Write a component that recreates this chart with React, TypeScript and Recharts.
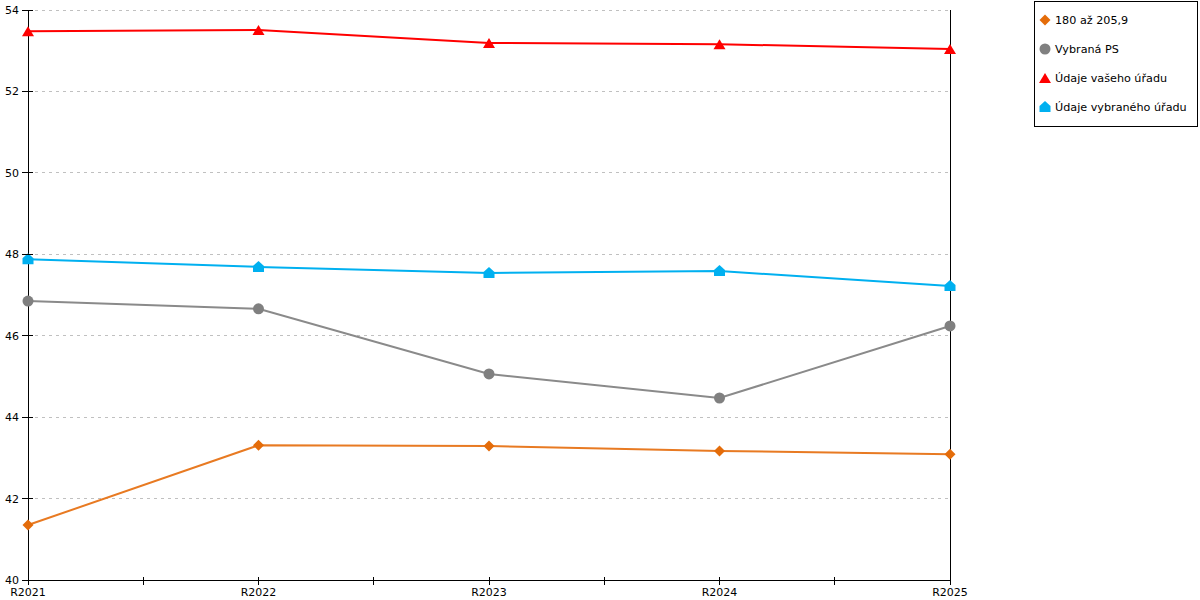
import React from 'react';
import { LineChart, Line, XAxis, YAxis, CartesianGrid, ReferenceLine } from 'recharts';

const categories = ['R2021', 'R2022', 'R2023', 'R2024', 'R2025'];
const orangeValues = [41.35, 43.31, 43.29, 43.17, 43.09];
const grayValues = [46.85, 46.66, 45.06, 44.47, 46.24];
const redValues = [53.48, 53.51, 53.19, 53.16, 53.04];
const blueValues = [47.88, 47.69, 47.54, 47.59, 47.22];
const yTicks = [40, 42, 44, 46, 48, 50, 52, 54];
const xTicks = [0, 0.5, 1, 1.5, 2, 2.5, 3, 3.5, 4];
const seriesNames = ['180 až 205,9', 'Vybraná PS', 'Údaje vašeho úřadu', 'Údaje vybraného úřadu'];

const data = categories.map((c, i) => ({
  idx: i,
  cat: c,
  orange: orangeValues[i],
  gray: grayValues[i],
  red: redValues[i],
  blue: blueValues[i],
}));

const FONT = 'DejaVu Sans, Verdana, sans-serif';
const ORANGE = '#E46C0A';
const ORANGE_LINE = '#E87A22';
const GRAY = '#808080';
const GRAY_LINE = '#8A8A8A';
const RED = '#FF0000';
const BLUE = '#00B0F0';

const Diamond = (props: any) => {
  const { cx, cy, fill } = props;
  if (cx == null || cy == null) return null;
  return <path d={`M${cx},${cy - 5.5} L${cx + 5.5},${cy} L${cx},${cy + 5.5} L${cx - 5.5},${cy} Z`} fill={fill} />;
};
const Circle = (props: any) => {
  const { cx, cy, fill } = props;
  if (cx == null || cy == null) return null;
  return <circle cx={cx} cy={cy} r={5.5} fill={fill} />;
};
const Triangle = (props: any) => {
  const { cx, cy, fill } = props;
  if (cx == null || cy == null) return null;
  return <path d={`M${cx},${cy - 5} L${cx + 6},${cy + 5} L${cx - 6},${cy + 5} Z`} fill={fill} />;
};
const House = (props: any) => {
  const { cx, cy, fill } = props;
  if (cx == null || cy == null) return null;
  return <path d={`M${cx},${cy - 6} L${cx + 5.5},${cy - 1} L${cx + 5.5},${cy + 5} L${cx - 5.5},${cy + 5} L${cx - 5.5},${cy - 1} Z`} fill={fill} />;
};

const XTick = (props: any) => {
  const { x, y, payload } = props;
  const v = payload.value;
  const isInt = Number.isInteger(v);
  return (
    <g>
      <line x1={x} x2={x} y1={y - 3} y2={y + 5} stroke="#000" strokeWidth={1} shapeRendering="crispEdges" />
      {isInt && (
        <text x={x} y={y + 16} textAnchor="middle" fontFamily={FONT} fontSize={11} fill="#000">
          {categories[v]}
        </text>
      )}
    </g>
  );
};

const YTick = (props: any) => {
  const { x, y, payload } = props;
  return (
    <g>
      <line x1={x - 6} x2={x + 5} y1={y} y2={y} stroke="#000" strokeWidth={1} shapeRendering="crispEdges" />
      <text x={x - 9} y={y + 4} textAnchor="end" fontFamily={FONT} fontSize={11} fill="#000">
        {payload.value}
      </text>
    </g>
  );
};

const legendItems = [
  { name: seriesNames[0], Shape: Diamond, color: ORANGE },
  { name: seriesNames[1], Shape: Circle, color: GRAY },
  { name: seriesNames[2], Shape: Triangle, color: RED },
  { name: seriesNames[3], Shape: House, color: BLUE },
];

const LegendBox = () => (
  <div
    style={{
      position: 'absolute',
      left: 1034,
      top: 1,
      width: 162,
      height: 124,
      border: '1px solid #000',
      background: '#fff',
      fontFamily: FONT,
      fontSize: 11.2,
      color: '#000',
    }}
  >
    {legendItems.map((it, i) => (
      <div key={i} style={{ position: 'absolute', left: 3, top: 10 + i * 29, height: 16, display: 'flex', alignItems: 'center', whiteSpace: 'nowrap' }}>
        <svg width={14} height={14} style={{ marginRight: 3 }}>
          <it.Shape cx={7} cy={7} fill={it.color} />
        </svg>
        <span>{it.name}</span>
      </div>
    ))}
  </div>
);

export default function App() {
  return (
    <div style={{ position: 'absolute', left: 0, top: 0, width: 1200, height: 600, background: '#fff' }}>
      <LineChart width={1200} height={600} data={data} margin={{ top: 10, right: 250, bottom: 0, left: 0 }}>
        <CartesianGrid vertical={false} stroke="#C0C0C0" strokeDasharray="3 4" shapeRendering="crispEdges" />
        <XAxis
          dataKey="idx"
          type="number"
          domain={[0, 4]}
          ticks={xTicks}
          interval={0}
          height={20}
          tickLine={false}
          tickSize={0}
          tickMargin={0}
          axisLine={{ stroke: '#000', shapeRendering: 'crispEdges' }}
          tick={<XTick />}
        />
        <YAxis
          type="number"
          domain={[40, 54]}
          ticks={yTicks}
          interval={0}
          width={28}
          tickLine={false}
          tickSize={0}
          tickMargin={0}
          axisLine={{ stroke: '#000', shapeRendering: 'crispEdges' }}
          tick={<YTick />}
        />
        <ReferenceLine x={4} stroke="#000" strokeWidth={1} shapeRendering="crispEdges" />
        <Line name={seriesNames[0]} dataKey="orange" stroke={ORANGE_LINE} strokeWidth={2} dot={<Diamond fill={ORANGE} />} activeDot={false} isAnimationActive={false} />
        <Line name={seriesNames[1]} dataKey="gray" stroke={GRAY_LINE} strokeWidth={2} dot={<Circle fill={GRAY} />} activeDot={false} isAnimationActive={false} />
        <Line name={seriesNames[2]} dataKey="red" stroke={RED} strokeWidth={2} dot={<Triangle fill={RED} />} activeDot={false} isAnimationActive={false} />
        <Line name={seriesNames[3]} dataKey="blue" stroke={BLUE} strokeWidth={2} dot={<House fill={BLUE} />} activeDot={false} isAnimationActive={false} />
      </LineChart>
      <LegendBox />
    </div>
  );
}
